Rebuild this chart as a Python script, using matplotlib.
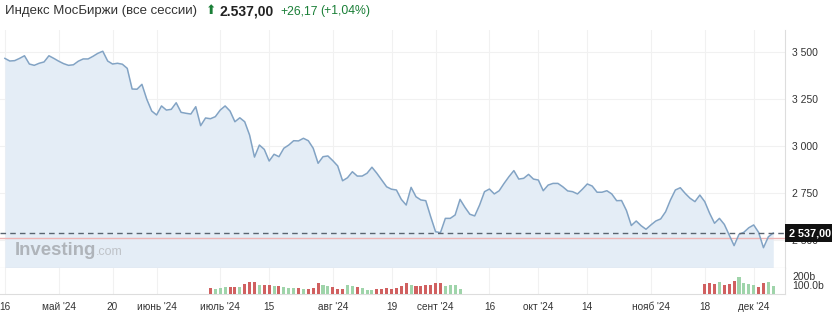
import matplotlib.pyplot as plt
import numpy as np
from matplotlib.transforms import blended_transform_factory

plt.rcParams['font.family'] = ['Liberation Sans', 'DejaVu Sans']

# daily close, Index MOEX, mid-Apr .. early Dec 2024
price = [3466, 3452, 3454, 3466, 3480, 3436, 3429, 3440, 3447, 3480,
         3466, 3451, 3438, 3429, 3432, 3451, 3463, 3463, 3477, 3493,
         3504, 3452, 3436, 3440, 3435, 3413, 3303, 3302, 3328, 3248,
         3186, 3165, 3213, 3191, 3195, 3230, 3179, 3174, 3170, 3209,
         3108, 3149, 3145, 3156, 3191, 3213, 3186, 3129, 3150, 3129,
         3058, 2941, 3005, 2982, 2920, 2956, 2943, 2988, 3005, 3028,
         3027, 3041, 3028, 2988, 2908, 2943, 2947, 2922, 2894, 2815,
         2831, 2863, 2840, 2840, 2855, 2887, 2855, 2819, 2783, 2770,
         2766, 2716, 2686, 2780, 2730, 2713, 2709, 2624, 2544, 2539,
         2615, 2615, 2633, 2716, 2674, 2637, 2628, 2686, 2757, 2771,
         2745, 2762, 2801, 2837, 2869, 2824, 2828, 2849, 2824, 2819,
         2762, 2792, 2801, 2801, 2783, 2761, 2757, 2745, 2770, 2798,
         2787, 2754, 2754, 2762, 2745, 2709, 2710, 2657, 2577, 2601,
         2576, 2557, 2580, 2601, 2612, 2650, 2713, 2766, 2778, 2748,
         2722, 2704, 2739, 2704, 2642, 2589, 2615, 2583, 2527, 2470,
         2530, 2541, 2565, 2580, 2541, 2459, 2517, 2537]

prev_close = 2510.83
last_price = 2537.00
change = 26.17
change_pct = 1.04

# traded volume, billions RUB (only part of the period is shown)
vol_start_1 = 42
volume_1 = [63, 56, 63, 74, 74, 74, 81, 110, 130, 137,
            105, 100, 95, 85, 85, 75, 70, 65, 65, 60,
            60, 70, 125, 95, 90, 80, 55, 60, 100, 85,
            80, 70, 50, 50, 55, 60, 65, 60, 70, 85,
            120, 100, 85, 85, 100, 100, 120, 120, 85, 100,
            100, 60]
vol_start_2 = 143
volume_2 = [107, 119, 111, 130, 100, 111, 144, 193, 126, 111, 100, 81, 119, 130, 89]

tick_pos = [0, 11, 22, 31, 44, 54, 67, 79, 88, 99, 109, 119, 132, 143, 153]
tick_labels = ['16', "май '24", '20', "июнь '24", "июль '24", '15', "авг '24", '19',
               "сент '24", '16', "окт '24", '14', "нояб '24", '18', "дек '24"]
y_ticks = [2500, 2750, 3000, 3250, 3500]
vol_ticks = [100, 200]
vol_tick_labels = ['100.0b', '200b']

W, H = 832, 313
fig = plt.figure(figsize=(W / 100, H / 100), dpi=100)
ax = fig.add_axes([0, (H - 268) / H, 785 / W, 238 / H])
axv = fig.add_axes([0, (H - 294) / H, 785 / W, 26 / H], sharex=ax)

ymin, ymax = 2351, 3617
x = np.arange(len(price))
ax.fill_between(x, price, ymin, color='#e4edf6', lw=0, zorder=1)
ax.plot(x, price, color='#82a3c4', lw=1.1, zorder=3)
ax.axhline(prev_close, color='#eeb4b4', lw=1, zorder=2)
ax.axhline(last_price, color='#5a6470', lw=1, ls=(0, (4, 3)), zorder=4)
ax.set_xlim(-1.0, 159.4)
ax.set_ylim(ymin, ymax)

ax.yaxis.tick_right()
ax.set_yticks(y_ticks)
ax.set_yticklabels([f'{v:,}'.replace(',', ' ') for v in y_ticks])
ax.tick_params(axis='y', length=0, pad=5, labelsize=7.5, labelcolor='#333333')
ax.tick_params(axis='x', length=0, labelbottom=False)
ax.set_xticks(tick_pos)
ax.grid(True, color='#f1f1f1', lw=0.8, zorder=0)
ax.set_axisbelow(True)
for s in ['left', 'top']:
    ax.spines[s].set_visible(False)
ax.spines['right'].set_color('#dddddd')
ax.spines['bottom'].set_color('#c8c8c8')

# last price box on the right axis
tr = blended_transform_factory(ax.transAxes, ax.transData)
ax.text(1.0 + 4 / 785, last_price, f'{last_price:,.2f}'.replace(',', ' ').replace('.', ','),
        transform=tr, ha='left', va='center', color='white', fontsize=7.8,
        fontweight='bold', zorder=10, clip_on=False,
        bbox=dict(boxstyle='square,pad=0.38', fc='#111111', ec='none'))

# watermark
ax.text(15 / 785, (268 - 255) / 238, 'Investing', transform=ax.transAxes,
        fontsize=13.4, fontweight='bold', color='#afb4ba', va='baseline', zorder=5)
ax.text(96 / 785, (268 - 255) / 238, '.com', transform=ax.transAxes,
        fontsize=9, color='#bfc3c8', va='baseline', zorder=5)

# volume
up_color, down_color = '#9fd4aa', '#d06060'
for start, vols in [(vol_start_1, volume_1), (vol_start_2, volume_2)]:
    idx = np.arange(start, start + len(vols))
    prev = np.array([price[i - 1] for i in idx])
    cur = np.array([price[i] for i in idx])
    colors = np.where(cur >= prev, up_color, down_color)
    axv.bar(idx, vols, width=0.62, color=colors, zorder=3)
axv.set_ylim(0, 289)
axv.yaxis.tick_right()
axv.set_yticks(vol_ticks)
axv.set_yticklabels(vol_tick_labels)
axv.tick_params(axis='y', length=0, pad=5, labelsize=7.5, labelcolor='#333333')
axv.set_xticks(tick_pos)
axv.set_xticklabels(tick_labels)
axv.tick_params(axis='x', length=0, pad=6, labelsize=7.2, labelcolor='#333333')
axv.grid(True, axis='x', color='#f1f1f1', lw=0.8, zorder=0)
for s in ['left', 'top']:
    axv.spines[s].set_visible(False)
axv.spines['right'].set_color('#dddddd')
axv.spines['bottom'].set_color('#dddddd')

# header
def ftext(px, py, s, **kw):
    fig.text(px / W, 1 - py / H, s, va='center', ha='left', **kw)

ftext(5, 11, 'Индекс МосБиржи (все сессии)', fontsize=9.5, color='#333333')
ftext(206, 11, '⬆', fontsize=9, color='#1a7f37', family='DejaVu Sans')
ftext(220, 11, f'{last_price:,.2f}'.replace(',', ' ').replace(' ', '.', 1).replace('.00', ',00'),
      fontsize=10, fontweight='bold', color='#222222')
ftext(280, 11, f'+{change:.2f}'.replace('.', ','), fontsize=8.8, color='#1a7f37')
ftext(320, 11, f'(+{change_pct:.2f}%)'.replace('.', ','), fontsize=8.8, color='#1a7f37')

fig.savefig('out.png', dpi=100)
